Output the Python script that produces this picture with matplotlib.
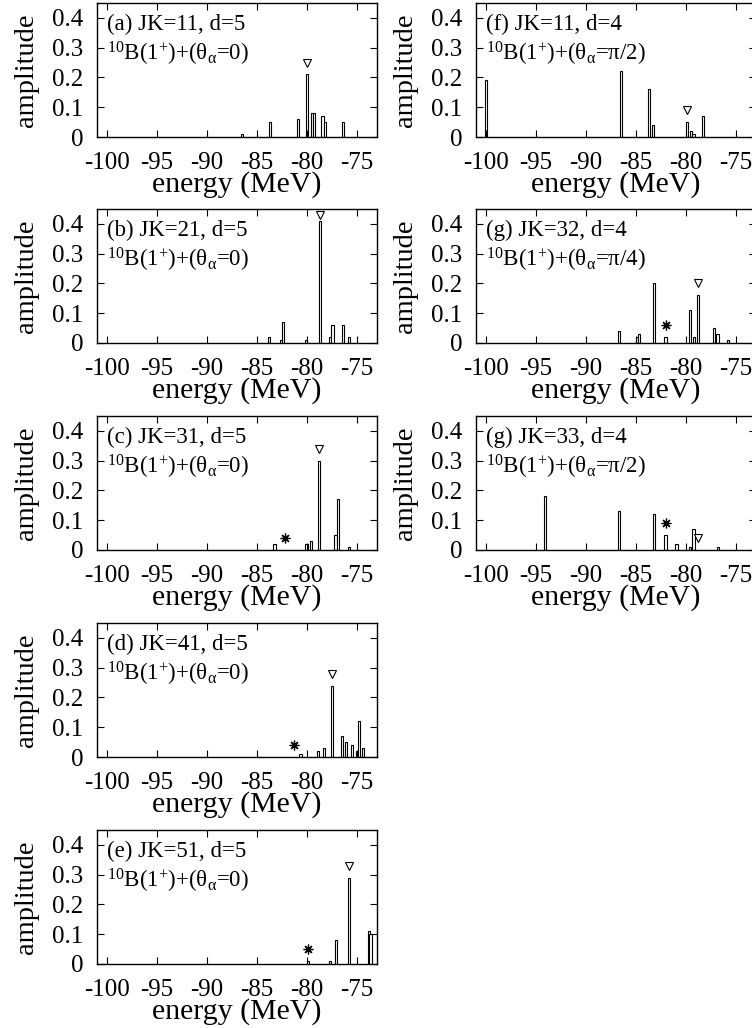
import matplotlib
matplotlib.use("Agg")
import matplotlib.pyplot as plt

plt.rcParams['font.family'] = ['Liberation Serif', 'DejaVu Serif']
plt.rcParams['mathtext.fontset'] = 'stix'
plt.rcParams['mathtext.default'] = 'regular'

# --- data (energy MeV, amplitude) ---
a_e = [-86.5, -83.7, -80.9, -80.0, -79.5, -79.3, -78.45, -78.2, -76.4]
a_amp = [0.01, 0.05, 0.06, 0.21, 0.08, 0.08, 0.07, 0.05, 0.05]
a_tri = (-80.0, 0.25)
a_star = None

b_e = [-83.8, -82.6, -82.4, -80.1, -78.7, -77.7, -77.45, -76.4, -75.8]
b_amp = [0.02, 0.01, 0.07, 0.01, 0.41, 0.02, 0.06, 0.06, 0.02]
b_tri = (-78.7, 0.43)
b_star = None

c_e = [-83.25, -80.05, -79.6, -78.8, -77.15, -76.9, -75.8]
c_amp = [0.02, 0.02, 0.03, 0.30, 0.05, 0.17, 0.01]
c_tri = (-78.8, 0.34)
c_star = (-82.2, 0.04)

d_e = [-80.65, -78.9, -78.3, -77.5, -76.5, -76.1, -75.5, -75.0, -74.8, -74.4]
d_amp = [0.01, 0.02, 0.03, 0.24, 0.07, 0.05, 0.04, 0.02, 0.12, 0.03]
d_tri = (-77.5, 0.28)
d_star = (-81.3, 0.04)

e_e = [-79.9, -77.7, -77.1, -75.8, -73.8, -73.65]
e_amp = [0.01, 0.01, 0.08, 0.29, 0.11, 0.10]
e_tri = (-75.8, 0.33)
e_star = (-79.9, 0.05)

f_e = [-100.0, -86.5, -83.7, -83.3, -79.9, -79.5, -79.25, -78.3]
f_amp = [0.19, 0.22, 0.16, 0.04, 0.05, 0.02, 0.01, 0.07]
f_tri = (-79.9, 0.09)
f_star = None

g1_e = [-86.7, -84.9, -84.7, -83.2, -82.05, -79.6, -79.2, -78.8, -77.2, -76.85, -75.8]
g1_amp = [0.04, 0.02, 0.03, 0.20, 0.02, 0.11, 0.02, 0.16, 0.05, 0.03, 0.01]
g1_tri = (-78.8, 0.20)
g1_star = (-82.05, 0.06)

g2_e = [-94.1, -86.7, -83.2, -82.05, -80.95, -79.6, -79.25, -76.8]
g2_amp = [0.18, 0.13, 0.12, 0.05, 0.02, 0.01, 0.07, 0.01]
g2_tri = (-78.8, 0.04)
g2_star = (-82.05, 0.09)

titles = ['(a) JK=11, d=5', '(b) JK=21, d=5', '(c) JK=31, d=5',
          '(d) JK=41, d=5', '(e) JK=51, d=5',
          '(f) JK=11, d=4', '(g) JK=32, d=4', '(g) JK=33, d=4']
angles = ['0', '0', '0', '0', '0', r'\pi/2', r'\pi/4', r'\pi/2']
xticks = [-100, -95, -90, -85, -80, -75]
yticks = [0, 0.1, 0.2, 0.3, 0.4]
ytick_labels = ['0', '0.1', '0.2', '0.3', '0.4']

panels = [
    (a_e, a_amp, a_tri, a_star),
    (b_e, b_amp, b_tri, b_star),
    (c_e, c_amp, c_tri, c_star),
    (d_e, d_amp, d_tri, d_star),
    (e_e, e_amp, e_tri, e_star),
    (f_e, f_amp, f_tri, f_star),
    (g1_e, g1_amp, g1_tri, g1_star),
    (g2_e, g2_amp, g2_tri, g2_star),
]

W, H = 752, 1028
fig = plt.figure(figsize=(W / 100, H / 100), dpi=100)

row_bottoms = [137, 343, 550, 757, 964]   # pixel rows of the zero line
col_lefts = [97, 476]
ax_w, ax_h = 280, 134

slots = [(0, r) for r in range(5)] + [(1, r) for r in range(3)]

for i, (col, row) in enumerate(slots):
    en, amp, tri, star = panels[i]
    left = col_lefts[col] / W
    bottom = 1 - row_bottoms[row] / H
    ax = fig.add_axes([left, bottom, ax_w / W, ax_h / H])

    ax.bar(en, amp, width=0.28, facecolor='white', edgecolor='black',
           linewidth=0.8, align='center')
    ax.plot([tri[0]], [tri[1]], marker='v', markersize=6,
            markerfacecolor='white', markeredgecolor='black',
            markeredgewidth=0.8, linestyle='none')
    if star is not None:
        ax.plot([star[0]], [star[1]], marker=(8, 2, 0), markersize=7,
                color='black', markeredgewidth=0.9, linestyle='none')

    ax.set_xlim(-101, -73)
    ax.set_ylim(0, 0.45)
    ax.set_xticks(xticks)
    ax.set_xticklabels([str(t) for t in xticks])
    ax.set_yticks(yticks)
    ax.set_yticklabels(ytick_labels)
    ax.tick_params(direction='in', top=True, right=True, length=5,
                   width=0.8, labelsize=18)
    ax.tick_params(axis='x', pad=10.5)
    ax.tick_params(axis='y', pad=10)
    for sp in ax.spines.values():
        sp.set_linewidth(1.0)

    ax.set_xlabel('energy (MeV)', fontsize=21.5, labelpad=-2)
    ax.set_ylabel('amplitude', fontsize=20.5, labelpad=9)

    ax.text(0.036, 0.84, titles[i], transform=ax.transAxes,
            fontsize=16.5, va='center', ha='left')
    ax.text(0.036, 0.62,
            r'$^{10}$B(1$^{+}$)+($\theta_{\alpha}$=' + '$' + angles[i] + '$)',
            transform=ax.transAxes, fontsize=16.5, va='center', ha='left')

fig.savefig('out.png', dpi=100)
